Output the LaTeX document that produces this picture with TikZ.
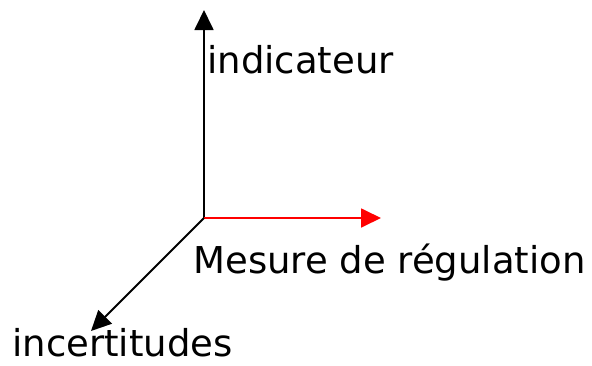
\documentclass[tikz,border=0pt]{standalone}
\usepackage{fontspec}
\setmainfont{DejaVu Sans}
\usetikzlibrary{arrows.meta}
\begin{document}
\begin{tikzpicture}[
  x=1pt, y=-1pt,
  thick,
  axis/.style={-{Triangle[length=20pt,width=19pt]}, line width=1.8pt},
  lbl/.style={inner sep=0pt, anchor=base west, font=\fontsize{37}{44}\selectfont}
]
  \useasboundingbox (0,0) rectangle (592,365);

  % origin and axis ends
  \coordinate (o) at (204,218);
  \coordinate (top) at (204,10);
  \coordinate (right) at (381,218);
  \coordinate (low) at (91,331);

  % axes
  \draw[axis] (o) -- (top);
  \draw[axis, red] (o) -- (right);
  \draw[axis] (o) -- (low);

  % labels
  \node[lbl] (ind) at (207,73) {indicateur};
  \node[lbl] (mes) at (193,273) {Mesure de régulation};
  \node[lbl] (inc) at (12,356) {incertitudes};
\end{tikzpicture}
\end{document}
